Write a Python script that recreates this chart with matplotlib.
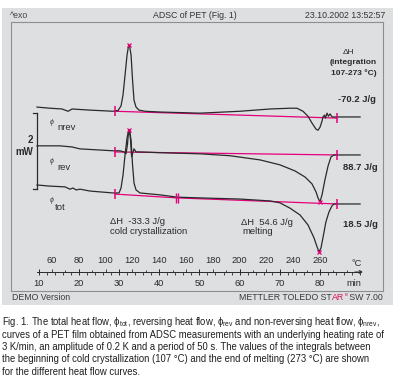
import matplotlib
matplotlib.use('Agg')
import matplotlib.pyplot as plt
from matplotlib.patches import Rectangle
from matplotlib.ticker import FixedLocator
import numpy as np

W, H, DPI = 401, 386, 100

# ---------------- data (temperature in °C, heat flow in mW relative to curve start) ----------------
nrev_T = [48.8, 58.5, 67.5, 72.0, 75.0, 88.4, 105.5, 109.3, 111.5, 113.0, 114.5, 116.0, 117.1, 117.8,
          119.0, 120.1, 121.2, 122.7, 124.9, 129.4, 140.6, 170.4, 200.3, 222.7, 237.6, 242.8, 247.3,
          251.0, 254.0, 257.0, 258.5, 260.0, 261.5, 262.2, 263.4, 264.0, 265.2, 266.3, 267.5, 269.0,
          272.7, 289.9]
nrev_mW = [0, -0.03, -0.05, -0.11, -0.05, -0.08, -0.11, -0.09, 0.03, 0.32, 0.84, 1.37, 1.61, 1.63,
           1.37, 0.71, 0.18, 0, -0.08, -0.11, -0.13, -0.16, -0.11, -0.05, -0.03, -0.03, -0.11,
           -0.24, -0.42, -0.58, -0.61, -0.53, -0.37, -0.26, -0.21, -0.29, -0.16, -0.24, -0.18, -0.26,
           -0.26, -0.26]

rev_T = [48.8, 66.0, 75.0, 80.9, 95.8, 105.5, 110.7, 113.7, 115.2, 116.3, 117.1, 117.8, 118.6, 119.4,
         120.5, 121.2, 122.7, 125.7, 140.6, 170.4, 192.8, 215.2, 230.1, 241.3, 248.8, 254.0, 257.0,
         258.5, 260.0, 261.5, 263.7, 266.0, 268.2, 270.4, 272.7, 289.9]
rev_mW = [0, 0, -0.03, -0.08, -0.11, -0.13, -0.13, -0.16, -0.21, 0.03, 0.37, 0.42, 0.16, -0.29,
          -0.16, -0.08, -0.16, -0.16, -0.18, -0.21, -0.26, -0.37, -0.5, -0.66, -0.82, -1.0, -1.21,
          -1.37, -1.47, -1.29, -0.89, -0.53, -0.29, -0.24, -0.24, -0.24]

tot_T = [48.8, 58.5, 69.7, 73.4, 75.7, 77.9, 80.9, 88.4, 105.5, 110.0, 111.5, 113.0, 114.5, 116.0,
         117.1, 117.8, 119.0, 120.1, 121.2, 122.7, 125.7, 140.6, 153.3, 170.4, 200.3, 222.7, 230.1,
         237.6, 245.1, 251.0, 255.5, 257.8, 259.3, 260.7, 262.2, 264.4, 266.7, 268.9, 270.4, 272.7, 289.9]
tot_mW = [0, -0.03, -0.05, -0.11, -0.08, -0.13, -0.11, -0.16, -0.21, -0.21, -0.08, 0.26, 0.79, 1.24,
          1.42, 1.45, 1.18, 0.53, 0.05, -0.13, -0.21, -0.26, -0.32, -0.34, -0.37, -0.42, -0.47,
          -0.61, -0.79, -1.05, -1.39, -1.63, -1.76, -1.66, -1.39, -0.97, -0.71, -0.55, -0.5, -0.5, -0.5]

# vertical offsets of the three curves on the plot (mW)
offset_nrev, offset_rev, offset_tot = 4.84, 3.82, 2.79

# integration baselines
base_nrev_T, base_nrev_mW = [107, 273], [-0.11, -0.29]
base_rev_T, base_rev_mW = [107, 273], [-0.16, -0.24]
base_tot_T, base_tot_mW = [107, 153.3, 273], [-0.24, -0.34, -0.5]

# peak markers (T, mW relative, curve)
peaks = [(117.8, 1.63, 'nrev'), (117.8, 1.45, 'tot'), (259.3, -1.76, 'tot'), (260.0, -1.47, 'rev')]

# scale bar
scale_T, scale_bottom, scale_mW = 48.8, 2.684, 2.0

# axis ticks
temp_ticks = [60, 80, 100, 120, 140, 160, 180, 200, 220, 240, 260]
time_ticks = [10, 20, 30, 40, 50, 60, 70, 80]
heating_rate, T_start = 3.0, 20.0   # K/min, °C

# text
dH_values = ['-70.2 J/g', '88.7 J/g', '18.5 J/g']
caption_lines = [
    "Fig. 1. The total heat flow, ϕ$_\\mathregular{tot}$, reversing heat flow, ϕ$_\\mathregular{rev}$ and non-reversing heat flow, ϕ$_\\mathregular{nrev}$,",
    "curves of a PET film obtained from ADSC measurements with an underlying heating rate of",
    "3 K/min, an amplitude of 0.2 K and a period of 50 s. The values of the integrals between",
    "the beginning of cold crystallization (107 °C) and the end of melting (273 °C) are shown",
    "for the different heat flow curves.",
]

# ---------------- figure ----------------
CURVE = '#2a2a2a'
MAG = '#e4007c'
TXT = '#2b2b2b'
PANEL = '#dedfe0'
FONT = ['Liberation Sans', 'DejaVu Sans']
NARROW = ['Liberation Sans Narrow', 'Liberation Sans', 'DejaVu Sans']

fig = plt.figure(figsize=(W / DPI, H / DPI), dpi=DPI)
fig.patch.set_facecolor('white')


def fx(x):
    return x / W


def fy(y):
    return 1 - y / H


fig.patches.append(Rectangle((fx(2), fy(305)), 391 / W, 297 / H, transform=fig.transFigure,
                             facecolor=PANEL, edgecolor='none', zorder=-5))

ax = fig.add_axes([fx(11), fy(291), 372 / W, 269 / H])
ax.set_zorder(2)
ax.set_facecolor(PANEL)
ax.set_xlim(29.4, 307.0)
ax.set_ylim(0, 7.079)
ax.set_xticks([])
ax.set_yticks([])
for s in ax.spines.values():
    s.set_color('#8e8e8e')
    s.set_linewidth(0.8)

curves = [(nrev_T, nrev_mW, offset_nrev), (rev_T, rev_mW, offset_rev), (tot_T, tot_mW, offset_tot)]
for T, v, off in curves:
    ax.plot(T, np.array(v) + off, color=CURVE, lw=0.9, zorder=3)

for T, v, off in [(base_nrev_T, base_nrev_mW, offset_nrev), (base_rev_T, base_rev_mW, offset_rev),
                  (base_tot_T, base_tot_mW, offset_tot)]:
    y = np.array(v) + off
    ax.plot(T, y, color=MAG, lw=0.9, zorder=2)
    ax.plot([T[0], T[-1]], [y[0], y[-1]], ls='none', marker='|', ms=7, mew=1.1, color=MAG, zorder=4)
# double limit mark on the total curve
mid = np.array(base_tot_mW[1]) + offset_tot
ax.plot([base_tot_T[1] - 1.0, base_tot_T[1] + 1.0], [mid, mid], ls='none', marker='|', ms=7,
        mew=1.0, color=MAG, zorder=4)

offs = {'nrev': offset_nrev, 'rev': offset_rev, 'tot': offset_tot}
for T, v, c in peaks:
    ax.plot([T], [v + offs[c]], marker='x', ms=3.5, mew=0.9, color=MAG, zorder=5)

# scale bar (2 mW)
ax.plot([scale_T, scale_T], [scale_bottom, scale_bottom + scale_mW], color=CURVE, lw=0.9)
for yy in (scale_bottom, scale_bottom + scale_mW):
    ax.plot([scale_T - 3, scale_T], [yy, yy], color=CURVE, lw=0.9)

# time / temperature axis inside the frame
axis_pos = (291 - 272) / 269
sec_min = ax.secondary_xaxis(axis_pos, functions=(lambda T: (T - T_start) / heating_rate,
                                                  lambda t: T_start + heating_rate * t))
sec_min.set_xticks(time_ticks)
sec_min.set_xticklabels([str(t) for t in time_ticks])
sec_min.xaxis.set_minor_locator(FixedLocator(np.arange(10, 91, 2)))
sec_min.spines['bottom'].set_bounds(9.6, 90)
sec_min.spines['bottom'].set_color(CURVE)
sec_min.spines['bottom'].set_linewidth(0.7)
sec_min.tick_params(axis='x', which='major', direction='inout', length=5, width=0.7, color=CURVE,
                    pad=2.5, labelsize=6.7, labelcolor=TXT)
sec_min.tick_params(axis='x', which='minor', direction='out', length=2, width=0.6, color=CURVE)

sec_T = ax.secondary_xaxis(axis_pos)
sec_T.set_alignment('top')
sec_T.set_xticks(temp_ticks)
sec_T.set_xticklabels([str(t) for t in temp_ticks])
sec_T.xaxis.set_minor_locator(FixedLocator(np.arange(50, 291, 10)))
sec_T.spines['top'].set_visible(False)
sec_T.tick_params(axis='x', which='major', direction='out', length=2.5, width=0.6, color=CURVE,
                  pad=2.5, labelsize=6.7, labelcolor=TXT)
sec_T.tick_params(axis='x', which='minor', direction='out', length=1.5, width=0.6, color=CURVE)
for sa in (sec_min, sec_T):
    for lab in sa.get_xticklabels():
        lab.set_family(FONT)

ax.annotate('', xy=(292, axis_pos), xycoords=('data', 'axes fraction'),
            xytext=(286, axis_pos), textcoords=('data', 'axes fraction'),
            arrowprops=dict(arrowstyle='->', lw=0.7, color=CURVE, shrinkA=0, shrinkB=0,
                            mutation_scale=5))


def t(x, y, s, size=6.8, ha='left', color=TXT, **kw):
    return fig.text(fx(x), fy(y), s, fontsize=size, ha=ha, va='center', color=color,
                    family=kw.pop('family', FONT), zorder=10, **kw)


# header
t(10, 15, '^exo', size=6.3, color='#444444')
t(195, 15, 'ADSC of PET (Fig. 1)', size=6.3, ha='center', color='#333333')
t(385, 15, '23.10.2002 13:52:57', size=6.3, ha='right', color='#333333')

# right annotations
t(343, 52, 'ΔH', size=6.0)
t(377, 63, '(integration', size=6.0, ha='right', family=NARROW, weight='bold')
t(377, 73, '107-273 °C)', size=6.0, ha='right', family=NARROW, weight='bold')
t(338, 99, dH_values[0], size=6.8, family=NARROW, weight='bold')
t(343, 167, dH_values[1], size=6.8, family=NARROW, weight='bold')
t(343, 225, dH_values[2], size=6.8, family=NARROW, weight='bold')

t(110, 221, 'ΔH  -33.3 J/g')
t(110, 231, 'cold crystallization')
t(241, 222, 'ΔH  54.6 J/g')
t(242, 232, 'melting')

# curve labels
for py, name, xs in [(122, 'nrev', 57), (162, 'rev', 57), (201, 'tot', 55)]:
    t(50, py, 'ϕ', size=5, color='#444444', style='italic')
    t(xs, py + 6, name, size=6.8)

t(33, 140, '2', size=7, ha='right', weight='bold')
t(33, 152, 'mW', size=7, ha='right', weight='bold')

t(352, 263, '°C', size=6.7)
t(346, 283, 'min', size=6.7)

# footer
FOOT = '#3a3a3a'
t(12, 298, 'DEMO Version', size=6.3, color=FOOT)
renderer = fig.canvas.get_renderer()
pieces = [('METTLER TOLEDO ST', FOOT, 6.3, 298), ('AR', '#d4145a', 6.3, 298),
          ('e', '#d4145a', 3.8, 295), (' SW 7.00', FOOT, 6.3, 298)]
objs = []
for s, c, sz, yy in pieces:
    objs.append((t(0, yy, s, size=sz, color=c), yy))
widths = [o.get_window_extent(renderer).width for o, _ in objs]
x = 383 - sum(widths)
for (o, yy), w in zip(objs, widths):
    o.set_position((fx(x), fy(yy)))
    x += w

# caption (fit width of the longest line)
probe = fig.text(0, 0, caption_lines[1], fontsize=10, family=NARROW)
wprobe = probe.get_window_extent(renderer).width
probe.remove()
cap_size = 10 * 385 / wprobe
for line, yy in zip(caption_lines, [322, 334.5, 347, 359.5, 372]):
    t(2, yy, line, size=cap_size, color='#1e1e1e', family=NARROW)

fig.savefig('out.png', dpi=DPI, facecolor='white')
